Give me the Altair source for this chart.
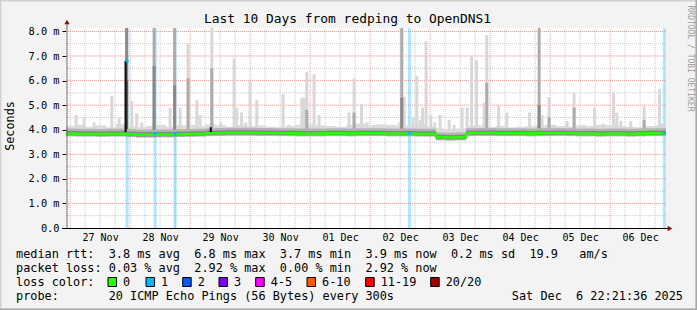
import altair as alt
import pandas as pd

# ---------------- text ----------------
TITLE = "Last 10 Days from redping to OpenDNS1"
Y_TITLE = "Seconds"
SIDE_TEXT = "RRDTOOL / TOBI OETIKER"
day_labels = ["27 Nov", "28 Nov", "29 Nov", "30 Nov", "01 Dec",
              "02 Dec", "03 Dec", "04 Dec", "05 Dec", "06 Dec"]
y_ticks = [0, 1, 2, 3, 4, 5, 6, 7, 8]
legend_rows = [
    "median rtt:  3.8 ms avg  6.8 ms max  3.7 ms min  3.9 ms now  0.2 ms sd  19.9   am/s",
    "packet loss: 0.03 % avg  2.92 % max  0.00 % min  2.92 % now",
    "loss color:",
    "probe:       20 ICMP Echo Pings (56 Bytes) every 300s",
]
stamp = "Sat Dec  6 22:21:36 2025"
loss_labels = ["0", "1", "2", "3", "4-5", "6-10", "11-19", "20/20"]
loss_colors = ["#26ff00", "#00b8ff", "#0059ff", "#7e00ff",
               "#ff00ff", "#ff5500", "#ff0000", "#a10000"]

# ---------------- data (x in days since 27 Nov 00:00, y in ms) ----------------
X_START = -0.0683
X_END = 9.9317
Y_MAX = 8.14

# 4-hour buckets (60)
median = [3.85, 3.84, 3.84, 3.83, 3.84, 3.84,
          3.82, 3.80, 3.80, 3.81, 3.81,
          3.82, 3.83, 3.84, 3.86, 3.87, 3.88,
          3.88, 3.88, 3.87, 3.87, 3.86, 3.86, 3.85,
          3.85, 3.85, 3.86, 3.86, 3.85, 3.86, 3.86, 3.86, 3.85, 3.85, 3.85, 3.84, 3.84,
          3.69, 3.68, 3.69,
          3.86, 3.87, 3.87, 3.86, 3.86, 3.86, 3.85, 3.86, 3.86, 3.87,
          3.86, 3.85, 3.85, 3.84, 3.85, 3.85, 3.84, 3.85, 3.86, 3.86]
smoke_hi = [4.15, 4.20, 4.12, 4.18, 4.10, 4.22,
            4.12, 4.10, 4.15, 4.20, 4.12, 4.18,
            4.20, 4.15, 4.22, 4.18, 4.12, 4.20,
            4.15, 4.18, 4.12, 4.10, 4.15, 4.20,
            4.22, 4.18, 4.15, 4.12, 4.20, 4.25,
            4.18, 4.22, 4.20, 4.15, 4.18, 4.20,
            4.12, 4.05, 4.02, 4.05, 4.15, 4.18,
            4.12, 4.15, 4.10, 4.12, 4.15, 4.18,
            4.20, 4.15, 4.12, 4.18, 4.15, 4.20,
            4.18, 4.15, 4.12, 4.10, 4.15, 4.18]
smoke_lo = [3.74] * 37 + [3.58, 3.57, 3.58] + [3.74] * 20

# individual smoke spikes
spike_day = [0.100, 0.233, 0.400, 0.695, 0.817, 0.942, 1.028, 1.112, 1.195, 1.400,
             1.667, 1.742, 1.833, 1.967, 2.112, 2.167, 2.362, 2.512, 2.733, 2.778,
             2.858, 2.928, 3.000, 3.112, 3.550, 3.650, 3.862, 3.900, 3.945, 4.067,
             4.150, 4.650, 4.733, 4.858, 4.950, 5.067, 5.283, 5.483, 5.528, 5.567,
             5.717, 5.778, 5.833, 5.875, 5.933, 6.012, 6.078, 6.167, 6.317, 6.400,
             6.533, 6.617, 6.692, 6.775, 6.900, 6.945, 7.142, 7.278, 7.658, 7.817,
             7.867, 7.983, 8.067, 8.283, 8.400, 8.567, 8.742, 8.883, 9.058, 9.112,
             9.178, 9.345, 9.567, 9.822, 9.867]
spike_top = [4.60, 4.50, 4.30, 5.37, 4.50, 8.14, 5.16, 4.67, 4.30, 8.14,
             4.90, 8.14, 4.90, 7.50, 5.20, 4.60, 8.14, 4.30, 6.90, 4.90,
             4.70, 4.30, 6.00, 5.20, 5.45, 4.20, 5.30, 5.30, 6.35, 6.26,
             4.60, 4.70, 6.08, 5.05, 4.30, 4.20, 4.20, 4.30, 8.14, 5.34,
             4.50, 6.20, 4.40, 4.90, 7.60, 4.60, 4.30, 4.60, 4.40, 4.20,
             4.90, 4.90, 7.00, 6.83, 5.10, 7.85, 5.00, 4.70, 4.70, 8.14,
             4.60, 5.33, 4.20, 4.35, 5.50, 4.20, 4.90, 4.25, 5.50, 4.70,
             4.36, 4.35, 4.95, 5.65, 4.25]
spike_shade = ["L", "L", "L", "L", "L", "D", "L", "L", "L", "M",
               "L", "M", "L", "L", "L", "L", "L", "L", "L", "L",
               "L", "L", "L", "L", "L", "L", "L", "L", "L", "L",
               "L", "L", "L", "L", "L", "L", "L", "L", "M", "L",
               "L", "L", "L", "L", "L", "L", "L", "L", "L", "L",
               "L", "L", "L", "L", "L", "L", "L", "L", "L", "M",
               "L", "L", "L", "L", "L", "L", "L", "L", "L", "L",
               "L", "L", "L", "L", "L"]
spike_inner = [0, 0, 0, 0, 0, 6.0, 0, 0, 0, 6.6,
               0, 5.8, 0, 6.1, 0, 0, 6.5, 0, 0, 0,
               0, 0, 0, 0, 0, 0, 0, 0, 4.8, 0,
               0, 0, 4.7, 0, 0, 0, 0, 0, 5.3, 0,
               0, 0, 0, 0, 0, 0, 0, 0, 0, 0,
               0, 0, 0, 0, 0, 5.9, 0, 0, 0, 5.0,
               0, 4.5, 0, 0, 4.9, 0, 0, 0, 0, 0,
               0, 0, 4.4, 0, 0]

# loss events (1 of 20 lost)
loss_day = [0.950, 1.417, 1.750, 5.655, 9.905]
loss_median = [6.80, 3.85, 3.85, 3.86, 3.87]

# dark median excursions
black_day = [0.925, 2.345]
black_lo = [3.90, 3.86]
black_hi = [6.80, 4.10]

# ---------------- styling constants ----------------
FONT = "DejaVu Sans Mono"
PL, PT = 66, 28            # plot origin in the page
W, H = 600, 200
STEP = 1 / 6               # 4 hours
SPIKE_HALF = 1.5 / 60      # ~3 px wide
BLACK_HALF = 1.1 / 60
SPIKE_BASE = 3.95
SHADE = {"L": "#d8d8d8", "M": "#acacac", "D": "#8a8a8a"}
INNER = {"L": "#acacac", "M": "#8a8a8a", "D": "#5c5c5c"}
NB = "\u00a0"

X_SCALE = alt.Scale(domain=[X_START, X_END], nice=False, zero=False)
Y_SCALE = alt.Scale(domain=[0, Y_MAX], nice=False, zero=True)
lab_js = "[" + ",".join("'" + s + "'" for s in day_labels) + "]"
X_AXIS = alt.Axis(values=[i + 0.5 for i in range(len(day_labels))],
                  labelExpr=lab_js + "[round(datum.value - 0.5)]",
                  grid=False, domain=False, ticks=False, labelPadding=4,
                  labelFontSize=10, labelFont=FONT, labelColor="black",
                  labelFlush=False, labelOverlap=False, title=None)
Y_AXIS = alt.Axis(values=y_ticks,
                  labelExpr="datum.value == 0 ? '0.0" + NB + NB + "' : format(datum.value, '.1f') + ' m'",
                  grid=False, domain=False, ticks=True, tickSize=4, tickColor="black",
                  labelPadding=3, labelFontSize=10.3, labelFont=FONT, labelColor="black",
                  title=None)


def X(f):
    return alt.X(f, type="quantitative", scale=X_SCALE, axis=X_AXIS, title=None)


def Y(f):
    return alt.Y(f, type="quantitative", scale=Y_SCALE, axis=Y_AXIS, title=None)


# ---------------- frames ----------------
n = len(median)
base_df = pd.DataFrame({
    "t0": [X_START + k * STEP for k in range(n)],
    "t1": [X_START + (k + 1) * STEP for k in range(n)],
    "lo": smoke_lo, "hi": smoke_hi, "med": median,
})
line_df = pd.DataFrame({
    "t": [X_START + k * STEP for k in range(n)] + [X_END],
    "med": median + [median[-1]],
})
spk = pd.DataFrame({"d": spike_day, "top": spike_top, "shade": spike_shade,
                    "inner": spike_inner})
spk["base"] = SPIKE_BASE
spk["x0"] = spk["d"] - SPIKE_HALF
spk["x1"] = spk["d"] + SPIKE_HALF
spk_in = spk[spk["inner"] > 0].copy()
spk_in["ishade"] = spk_in["shade"].map(lambda s: {"L": "M", "M": "D", "D": "K"}[s])

loss_df = pd.DataFrame({"d": loss_day, "m": loss_median, "lo": 0.0, "hi": Y_MAX})
black_df = pd.DataFrame({"x0": [d - BLACK_HALF for d in black_day],
                         "x1": [d + BLACK_HALF for d in black_day],
                         "lo": black_lo, "hi": black_hi})

vmaj = pd.DataFrame({"x": list(range(10)), "lo": 0.0, "hi": Y_MAX})
vmin = pd.DataFrame({"x": [d + q * 0.25 for d in range(10) for q in (1, 2, 3)], "lo": 0.0, "hi": Y_MAX})
vmin = vmin[vmin["x"] < X_END]
hmaj = pd.DataFrame({"y": [v for v in y_ticks if v > 0], "a": X_START, "b": X_END})
hmin = pd.DataFrame({"y": [v + 0.5 for v in y_ticks[:-1]], "a": X_START, "b": X_END})

one = pd.DataFrame({"k": [0]})
layers = []

# grid
layers.append(alt.Chart(hmin).mark_rule(color="#c8c8c8", strokeDash=[1, 1], strokeWidth=1)
              .encode(y=Y("y"), x=X("a"), x2="b"))
layers.append(alt.Chart(vmin).mark_rule(color="#c8c8c8", strokeDash=[1, 1], strokeWidth=1)
              .encode(x=X("x"), y=Y("lo"), y2="hi"))
layers.append(alt.Chart(hmaj).mark_rule(color="#f29a9a", strokeDash=[1, 1], strokeWidth=1)
              .encode(y=Y("y"), x=X("a"), x2="b"))
layers.append(alt.Chart(vmaj).mark_rule(color="#f29a9a", strokeDash=[1, 1], strokeWidth=1)
              .encode(x=X("x"), y=Y("lo"), y2="hi"))

# loss background bars
layers.append(alt.Chart(loss_df).mark_rule(color="#00b8ff", opacity=0.33, strokeWidth=3)
              .encode(x=X("d"), y=Y("lo"), y2="hi"))

# smoke
layers.append(alt.Chart(base_df).mark_rect(color="#dcdcdc")
              .encode(x=X("t0"), x2="t1", y=Y("lo"), y2="hi"))
shade_scale = alt.Scale(domain=["L", "M", "D", "K"],
                        range=[SHADE["L"], SHADE["M"], SHADE["D"], INNER["D"]])
layers.append(alt.Chart(spk).mark_rect()
              .encode(x=X("x0"), x2="x1", y=Y("base"), y2="top",
                      color=alt.Color("shade:N", scale=shade_scale, legend=None)))
layers.append(alt.Chart(spk_in).mark_rect()
              .encode(x=X("x0"), x2="x1", y=Y("base"), y2="inner",
                      color=alt.Color("ishade:N", scale=shade_scale, legend=None)))
layers.append(alt.Chart(base_df).transform_calculate(a="datum.med - 0.12", b="datum.med + 0.20")
              .mark_rect(color="#b4b4b4").encode(x=X("t0"), x2="t1", y=Y("a:Q"), y2="b:Q"))
layers.append(alt.Chart(base_df).transform_calculate(a="datum.med - 0.08", b="datum.med + 0.10")
              .mark_rect(color="#858585").encode(x=X("t0"), x2="t1", y=Y("a:Q"), y2="b:Q"))
layers.append(alt.Chart(black_df).mark_rect(color="#111111")
              .encode(x=X("x0"), x2="x1", y=Y("lo"), y2="hi"))

# median line
layers.append(alt.Chart(line_df).mark_line(color=loss_colors[0], strokeWidth=2.5,
                                           interpolate="step-after")
              .encode(x=X("t"), y=Y("med")))
layers.append(alt.Chart(loss_df).mark_square(color=loss_colors[1], size=9, opacity=1)
              .encode(x=X("d"), y=Y("m")))

# axis lines and arrows
layers.append(alt.Chart(one).mark_rule(color="#666666", strokeWidth=1)
              .encode(x=alt.value(1), y=alt.value(-5), y2=alt.value(200)))
layers.append(alt.Chart(one).mark_rule(color="black", strokeWidth=1)
              .encode(x=alt.value(-4), x2=alt.value(603), y=alt.value(200.5)))
layers.append(alt.Chart(one).mark_point(shape="triangle-up", filled=True, color="#8b1010",
                                        size=28, opacity=1)
              .encode(x=alt.value(1), y=alt.value(-6)))
layers.append(alt.Chart(one).mark_point(shape="triangle-right", filled=True, color="#8b1010",
                                        size=28, opacity=1)
              .encode(x=alt.value(604), y=alt.value(200.5)))

# page frame
layers.append(alt.Chart(one).mark_rect(fillOpacity=0, stroke="#d2d2d2", strokeWidth=3)
              .encode(x=alt.value(-PL), x2=alt.value(697 - PL), y=alt.value(-PT), y2=alt.value(310 - PT)))
layers.append(alt.Chart(one).mark_rule(color="#a8a8a8", strokeWidth=3)
              .encode(x=alt.value(-PL), x2=alt.value(697 - PL), y=alt.value(310 - PT)))
layers.append(alt.Chart(one).mark_rule(color="#a8a8a8", strokeWidth=3)
              .encode(x=alt.value(697 - PL), y=alt.value(-PT), y2=alt.value(310 - PT)))

# texts
layers.append(alt.Chart(one).mark_text(text=TITLE, font=FONT, fontSize=12.9, color="black",
                                       align="center", baseline="middle")
              .encode(x=alt.value(347.5 - PL), y=alt.value(18.5 - PT)))
layers.append(alt.Chart(one).mark_text(text=Y_TITLE, font=FONT, fontSize=11.8, color="black",
                                       align="center", baseline="middle", angle=270)
              .encode(x=alt.value(10 - PL), y=alt.value(126 - PT)))
layers.append(alt.Chart(one).mark_text(text=SIDE_TEXT, font=FONT, fontSize=8, color="#9a9a9a",
                                       align="center", baseline="middle", angle=90)
              .encode(x=alt.value(689.5 - PL), y=alt.value(58.5 - PT)))

row_y = [254.3, 268.3, 281.7, 296.0]
for txt, ry in zip(legend_rows, row_y):
    layers.append(alt.Chart(one).mark_text(text=txt.replace(" ", NB), font=FONT, fontSize=11.85,
                                           color="black", align="left", baseline="middle")
                  .encode(x=alt.value(16 - PL), y=alt.value(ry - PT)))
layers.append(alt.Chart(one).mark_text(text=stamp.replace(" ", NB), font=FONT, fontSize=11.85,
                                       color="black", align="right", baseline="middle")
              .encode(x=alt.value(683 - PL), y=alt.value(296.0 - PT)))

label_px = [123, 161, 197.7, 234, 270.7, 322, 380.7, 445.7]
for lab, col, lx in zip(loss_labels, loss_colors, label_px):
    layers.append(alt.Chart(one).mark_rect(color=col, stroke="black", strokeWidth=1)
                  .encode(x=alt.value(lx - 15 - PL), x2=alt.value(lx - 6.5 - PL),
                          y=alt.value(277.5 - PT), y2=alt.value(286.5 - PT)))
    layers.append(alt.Chart(one).mark_text(text=lab, font=FONT, fontSize=11.85, color="black",
                                           align="left", baseline="middle")
                  .encode(x=alt.value(lx - PL), y=alt.value(281.7 - PT)))

chart = (alt.layer(*layers)
         .properties(width=W, height=H, autosize=alt.AutoSizeParams(type="none"),
                     padding={"left": PL, "top": PT, "right": 697 - PL - W, "bottom": 310 - PT - H},
                     background="#f3f3f3")
         .configure_view(fill="white", stroke=None))

chart.save("out.html", embed_options={"renderer": "svg", "actions": False})
